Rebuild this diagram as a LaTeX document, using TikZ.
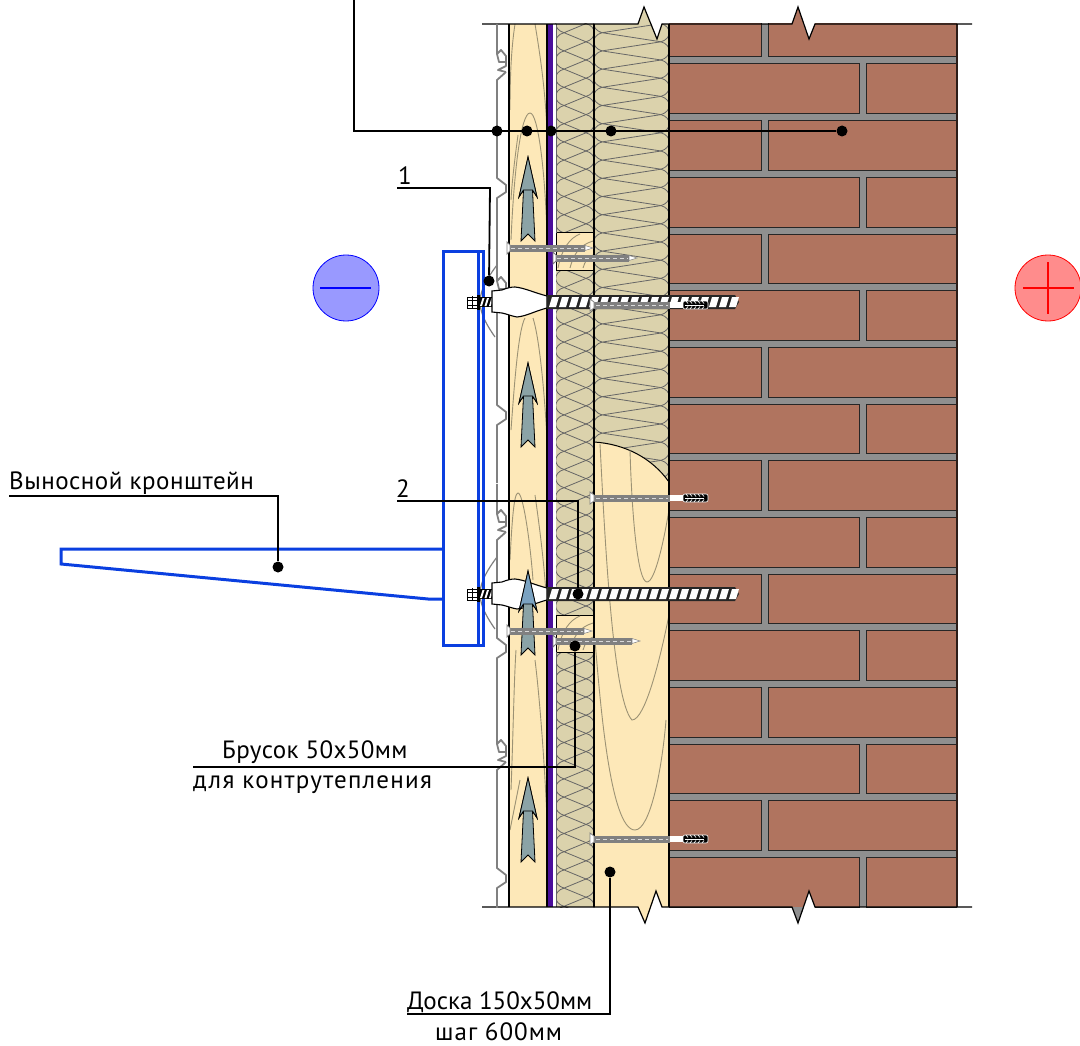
\documentclass[tikz,border=0pt]{standalone}
\usepackage{fontspec}
\setmainfont{PT Sans}
\definecolor{brickc}{HTML}{B0745F}
\definecolor{mortarc}{HTML}{8F8F8F}
\definecolor{woodc}{HTML}{FDE8B8}
\definecolor{woolc}{HTML}{DBD2AC}
\definecolor{grainc}{HTML}{9C9274}
\definecolor{membc}{HTML}{4B0E9B}
\definecolor{bracketc}{HTML}{0A3FE0}
\definecolor{airc}{HTML}{8BA3A6}
\definecolor{airheadc}{HTML}{7BA3C2}
\definecolor{screwc}{HTML}{808080}
\tikzset{
    leader/.style={draw=black, line width=1.8pt},
    leaderdot/.style={circle, fill=black, inner sep=0pt, minimum size=11pt},
    lab/.style={font=\fontsize{25}{25}\selectfont\addfontfeatures{LetterSpace=#1}, inner sep=0pt},
    lab/.default=2,
    grain/.style={draw=grainc, line width=0.9pt},
    wool/.style={draw=black!60, line width=0.8pt},
    siding/.style={draw=gray, line width=1.8pt, line join=round},
    bracketline/.style={draw=bracketc, line width=3pt, line join=miter}
}
% net of one wool layer: left edge, right edge, first y, last y
\newcommand{\woollayer}[4]{
    \begin{scope}
        \clip (#1-1,#3) rectangle (#2+1,#4);
        \foreach \k in {0,...,49}{
            \pgfmathsetmacro{\yn}{32.7+18.2*(\k-1)}
            \pgfmathsetmacro{\ym}{\yn+9.1}
            \draw[wool] (#1+8,\yn) .. controls (#1-3,\yn+3) and (#1-3,\yn+15) .. (#1+8,\yn+18.2);
            \draw[wool] (#2-8,\ym) .. controls (#2+3,\ym+3) and (#2+3,\ym+15) .. (#2-8,\ym+18.2);
            \draw[wool] (#2-8,\yn-9.1) -- (#1+8,\yn) -- (#2-8,\ym);
        }
    \end{scope}
}
% gray screw: head x, tip x, y
\newcommand{\grayscrew}[3]{
    \fill[screwc] (#1+2,#3-3.5) rectangle (#2-8,#3+3.5);
    \draw[white!70!screwc, line width=0.7pt, dash pattern=on 4pt off 3pt] (#1+4,#3) -- (#2-9,#3);
    \fill[white, draw=gray, line width=0.5pt] (#2-8,#3-2.5) -- (#2,#3) -- (#2-8,#3+2.5) -- cycle;
    \fill[white, draw=gray, line width=0.8pt] (#1,#3-6) -- (#1+3,#3-3) -- (#1+3,#3+3) -- (#1,#3+6) -- cycle;
}
% gray screw with dowel at the wall: y
\newcommand{\dowelscrew}[1]{
    \fill[screwc] (592,#1-3.5) rectangle (670,#1+3.5);
    \draw[white!70!screwc, line width=0.7pt, dash pattern=on 4pt off 3pt] (596,#1) -- (668,#1);
    \fill[white, draw=gray, line width=0.8pt] (590,#1-6) -- (594,#1-3) -- (594,#1+3) -- (590,#1+6) -- cycle;
    \fill[white] (670,#1-3) rectangle (683,#1+3);
    \filldraw[fill=black, draw=white, line width=0.6pt, rounded corners=2pt] (683,#1-4) rectangle (708,#1+4);
    \foreach \x in {686,690,...,702}{
        \draw[white, line width=0.7pt] (\x,#1-4) -- (\x+2,#1-1.5);
        \draw[white, line width=0.7pt] (\x,#1+4) -- (\x+2,#1+1.5);
    }
    \draw[white, line width=0.8pt] (685,#1) -- (704,#1);
}
% frame anchor: nut, plug; y is the axis
\newcommand{\anchorplug}[1]{
    \filldraw[fill=white, draw=black, line width=1pt] (467,#1-5) rectangle (477,#1+6);
    \draw[black, line width=0.8pt] (467,#1-2) -- (477,#1-2) (467,#1+3) -- (477,#1+3) (472,#1-6) -- (472,#1+7);
    \fill[black] (477,#1-7) rectangle (480,#1+8);
    \fill[black] (480,#1-5) rectangle (493,#1+5);
    \foreach \x in {480,484.5,489}{
        \fill[white] (\x,#1+4) -- (\x+2,#1+4) -- (\x+4.5,#1-4) -- (\x+2.5,#1-4) -- cycle;
    }
    \filldraw[fill=white, draw=black, line width=1.1pt] (492,#1-11) -- (502,#1-12) .. controls (507,#1-14) and (511,#1-15) .. (515,#1-15) .. controls (525,#1-14) and (535,#1-9) .. (547,#1-6) -- (547,#1+6) .. controls (535,#1+9) and (527,#1+14) .. (517,#1+15) .. controls (511,#1+14) and (507,#1+12) .. (502,#1+11) -- (492,#1+10) -- cycle;
}
% threaded bolt of the anchor
\newcommand{\anchorbolt}[1]{
    \fill[black!85] (547,#1-7) -- (735,#1-7) -- (739,#1) -- (735,#1+7) -- (547,#1+7) -- cycle;
    \foreach \x in {549,559,...,729}{
        \fill[white] (\x,#1+5) -- (\x+7,#1+5) -- (\x+10,#1-5) -- (\x+3,#1-5) -- cycle;
    }
}
% air arrow: tip y, colour of the head
\newcommand{\airarrow}[2]{
    \filldraw[fill=airc, draw=black, line width=0.8pt] (528,#1) -- (537,#1+40) -- (532.5,#1+33) -- (535,#1+84) -- (528,#1+77) -- (521,#1+84) -- (523.5,#1+33) -- (519,#1+40) -- cycle;
    \filldraw[fill=#2, draw=black, line width=0.8pt] (528,#1) -- (537,#1+40) -- (532.5,#1+33) -- (523.5,#1+33) -- (519,#1+40) -- cycle;
}
% siding panel: start y is the clip of that panel
\newcommand{\sidingpanel}[1]{
    \draw[siding] (497,#1-36) -- (497,#1-6) -- (501,#1-10) -- (506,#1-4) -- (506,#1+6) -- (498,#1+10) -- (506,#1+12) (497,#1-6) -- (499,#1+2) -- (505,#1+2);
    \draw[siding] (506,#1+12) -- (497,#1+20) -- (497,#1+118) -- (506,#1+125) -- (506,#1+132) -- (497,#1+138) -- (497,#1+196);
}
\begin{document}
\begin{tikzpicture}[x=1pt,y=-1pt]
    \useasboundingbox (0,0) rectangle (1080,1046);
    % wool, both layers
    \fill[woolc] (556,24) rectangle (669,907);
    \woollayer{556}{594}{24}{907}
    \woollayer{594}{669}{24}{485}
    % plank under the wool
    \filldraw[fill=woodc, draw=black, line width=1pt] (594,907) -- (594,442) .. controls (625,444) and (652,458) .. (669,482) -- (669,907);
    \draw[grain] (600,444) .. controls (604,520) and (612,700) .. (632,720) .. controls (645,720) and (660,660) .. (669,615);
    \draw[grain] (630,450) .. controls (632,520) and (638,582) .. (647,582) .. controls (655,582) and (664,540) .. (669,510);
    \draw[grain] (595,640) .. controls (600,700) and (610,830) .. (635,830) .. controls (650,830) and (662,770) .. (666,720);
    % battens of the air gap
    \fill[woodc] (509,24) rectangle (547,907);
    \draw[grain] (515,24) .. controls (511,50) and (510,80) .. (510,110);
    \draw[grain] (535,24) .. controls (541,60) and (545,90) .. (547,130);
    \draw[grain] (511,240) .. controls (514,170) and (521,113) .. (530,113) .. controls (538,113) and (545,170) .. (547,235);
    \draw[grain] (518,135) .. controls (516,150) and (512,180) .. (511,200);
    \draw[grain] (511,430) .. controls (514,390) and (518,330) .. (525,318);
    \draw[grain] (533,318) .. controls (540,340) and (545,400) .. (547,440);
    \draw[grain] (510,560) .. controls (512,520) and (514,493) .. (518,493) .. controls (523,493) and (530,540) .. (533,580);
    \draw[grain] (535,495) .. controls (540,530) and (545,570) .. (547,610);
    \draw[grain] (511,790) .. controls (513,740) and (514,680) .. (516,650);
    \draw[grain] (535,660) .. controls (540,700) and (545,770) .. (547,820);
    \draw[grain] (510,830) .. controls (513,815) and (516,800) .. (520,780);
    \draw[black, line width=1.4pt] (509,24) -- (509,907) (547,24) -- (547,907);
    % membrane
    \fill[membc] (548,24) rectangle (553,907);
    \fill[white] (553,24) rectangle (556,907);
    % blocks of the counter battens
    \foreach \y in {233,615}{
        \filldraw[fill=woodc, draw=black, line width=1pt] (556,\y) rectangle (594,\y+37);
        \draw[grain] (558,\y+35) .. controls (562,\y+15) and (570,\y+5) .. (580,\y+1);
        \draw[grain] (570,\y+35) .. controls (574,\y+20) and (580,\y+12) .. (593,\y+8);
        \draw[grain] (583,\y+35) .. controls (585,\y+28) and (588,\y+24) .. (593,\y+22);
    }
    \draw[black!60, line width=0.8pt] (556,24) -- (556,233) (556,652) -- (556,907);
    \draw[black, line width=1.4pt] (594,24) -- (594,907);
    % brick wall
    \begin{scope}
        \clip (669,24) rectangle (957,907);
        \fill[mortarc] (669,24) rectangle (957,907);
        \foreach \r in {0,...,15}{
            \pgfmathsetmacro{\ytop}{7.33+56.67*\r}
            \pgfmathsetmacro{\ybot}{\ytop+49.67}
            \pgfmathparse{int(mod(\r,2))}
            \ifnum\pgfmathresult=0
                \def\jl{761}\def\jr{768}
            \else
                \def\jl{859}\def\jr{866}
            \fi
            \filldraw[fill=brickc, draw=black!85, line width=1pt] (660,\ytop) rectangle (\jl,\ybot);
            \filldraw[fill=brickc, draw=black!85, line width=1pt] (\jr,\ytop) rectangle (970,\ybot);
        }
    \end{scope}
    \draw[black!75!brickc, line width=1.2pt] (957,24) -- (957,907);
    \draw[black, line width=1.2pt] (669,24) -- (669,907);
    % cuts at top and bottom
    \fill[woolc] (638,24) -- (644,7) -- (651,24) -- cycle;
    \fill[white] (651,23) -- (657,39) -- (662,23) -- cycle;
    \fill[brickc] (792,24) -- (798,7) -- (804,24) -- cycle;
    \fill[white] (803,23) -- (809,39) -- (815,23) -- cycle;
    \fill[woodc] (638,907) -- (645,923) -- (651,907) -- cycle;
    \fill[white] (651,908) -- (656,891) -- (662,908) -- cycle;
    \fill[mortarc] (792,907) -- (798,923) -- (804,907) -- cycle;
    \fill[white] (803,908) -- (809,891) -- (815,908) -- cycle;
    \draw[black, line width=1.2pt] (482,24) -- (638,24) -- (644,7) -- (657,39) -- (662,24) -- (792,24) -- (798,7) -- (809,39) -- (815,24) -- (972,24);
    \draw[black, line width=1.2pt] (482,907) -- (638,907) -- (645,923) -- (656,891) -- (662,907) -- (792,907) -- (798,923) -- (809,891) -- (815,907) -- (972,907);
    % siding
    \begin{scope}
        \clip (490,24) rectangle (508,907);
        \foreach \y in {60,287,520,750}{
            \sidingpanel{\y}
        }
    \end{scope}
    % air arrows
    \airarrow{157}{airc}
    \airarrow{363}{airc}
    \airarrow{778}{airc}
    % holders behind the bolts
    \foreach \y in {302,594}{
        \draw[gray, line width=1.2pt] (497,\y-37) .. controls (488,\y-25) and (480,\y-12) .. (480,\y) .. controls (480,\y+12) and (488,\y+25) .. (495,\y+35);
    }
    % blue bracket
    \draw[bracketline] (443,251) rectangle (478,645);
    \draw[bracketline] (478,251) rectangle (483,645);
    \draw[bracketline] (443,549) -- (61,549) -- (61,564) -- (428,599) -- (443,599);
    % anchors
    \foreach \y in {302,594}{
        \anchorplug{\y}
    }
    \airarrow{571}{airheadc}
    \foreach \y in {302,594}{
        \anchorbolt{\y}
    }
    % screws
    \grayscrew{507}{593}{248}
    \grayscrew{553}{637}{258}
    \grayscrew{507}{592}{631}
    \grayscrew{553}{640}{641}
    \foreach \y in {305,498,839}{
        \dowelscrew{\y}
    }
    % signs
    \node[circle, fill=blue!40, draw=blue, line width=0.8pt, minimum size=66pt, inner sep=0pt] (signminus) at (346,288) {};
    \coordinate (minusl) at (320,288);
    \coordinate (minusr) at (371,288);
    \draw[blue, line width=2pt] (minusl) -- (minusr);
    \node[circle, fill=red!45, draw=red, line width=0.8pt, minimum size=66pt, inner sep=0pt] (signplus) at (1048,288) {};
    \coordinate (plusl) at (1023,288);
    \coordinate (plusr) at (1074,288);
    \coordinate (plust) at (1048,262);
    \coordinate (plusb) at (1048,314);
    \draw[red, line width=1.5pt] (plusl) -- (plusr) (plust) -- (plusb);
    % leaders
    \coordinate (topa) at (354,0);
    \coordinate (topb) at (354,131);
    \node[leaderdot] (dotsiding) at (497,131) {};
    \node[leaderdot] (dotbatten) at (527,131) {};
    \node[leaderdot] (dotmemb) at (551,131) {};
    \node[leaderdot] (dotwool) at (611,131) {};
    \node[leaderdot] (dotbrick) at (842,131) {};
    \draw[leader] (topa) -- (topb) -- (dotbrick);
    \coordinate (onea) at (397,188);
    \coordinate (oneb) at (490,188);
    \node[leaderdot] (dotone) at (489,281) {};
    \node[lab] (labone) at (405,176) {1};
    \draw[leader] (onea) -- (oneb) -- (dotone);
    \coordinate (twoa) at (397,501);
    \coordinate (twob) at (578,501);
    \node[leaderdot] (dottwo) at (578,594) {};
    \node[lab] (labtwo) at (403,489) {2};
    \draw[leader] (twoa) -- (twob) -- (dottwo);
    \coordinate (brka) at (9,496);
    \coordinate (brkb) at (278,496);
    \node[leaderdot] (dotbrk) at (278,567) {};
    \node[lab, anchor=west] (labbrk) at (9,483) {Выносной кронштейн};
    \draw[leader] (brka) -- (brkb) -- (dotbrk);
    \coordinate (blka) at (193,767);
    \coordinate (blkb) at (575,767);
    \node[leaderdot] (dotblk) at (575,646) {};
    \node[lab=1.5, anchor=west] (labblk) at (222,752) {Брусок 50x50мм};
    \node[lab=5, anchor=west] (labblkb) at (193,785) {для контрутепления};
    \draw[leader] (blka) -- (blkb) -- (dotblk);
    \coordinate (plka) at (407,1014);
    \coordinate (plkb) at (610,1014);
    \node[leaderdot] (dotplk) at (610,872) {};
    \node[lab=0, anchor=west] (labplk) at (407,1002) {Доска 150x50мм};
    \node[lab=4, anchor=west] (labplkb) at (435,1032) {шаг 600мм};
    \draw[leader] (plka) -- (plkb) -- (dotplk);
\end{tikzpicture}
\end{document}
